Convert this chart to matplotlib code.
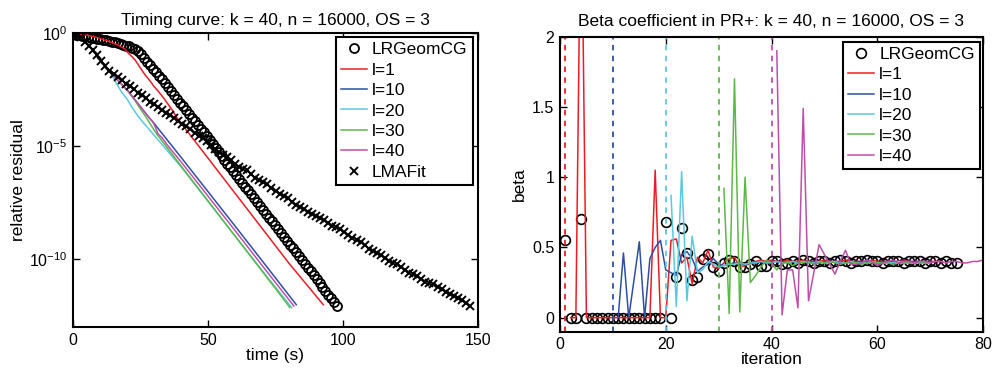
import numpy as np
import matplotlib
matplotlib.use("Agg")
import matplotlib.pyplot as plt

plt.rcParams['font.family'] = ['Liberation Sans', 'DejaVu Sans']
plt.rcParams['mathtext.fontset'] = 'custom'
plt.rcParams['mathtext.rm'] = 'Liberation Sans'
plt.rcParams['mathtext.it'] = 'Liberation Sans:italic'

# ---- left panel: relative residual vs time (log10 values) ----
lrg_t = [0.0, 1.1, 2.2, 3.3, 4.4, 5.5, 6.6, 7.7, 8.8, 9.9, 11.0, 12.1, 13.2, 14.3, 15.4,
         16.5, 17.6, 18.7, 19.8, 20.9, 22.0, 23.1, 24.2, 25.3, 26.4, 27.5, 28.6, 29.7,
         30.8, 31.9, 33.0, 34.1, 35.2, 36.3, 37.4, 38.5, 39.6, 40.7, 41.8, 42.9, 44.0,
         45.1, 46.2, 47.3, 48.4, 49.5, 50.6, 51.7, 52.8, 53.9, 55.0, 56.1, 57.2, 58.3,
         59.4, 60.5, 61.6, 62.7, 63.8, 64.9, 66.0, 67.1, 68.2, 69.3, 70.4, 71.5, 72.6,
         73.7, 74.8, 75.9, 77.0, 78.1, 79.2, 80.3, 81.4, 82.5, 83.6, 84.7, 85.8, 86.9,
         88.0, 89.1, 90.2, 91.3, 92.4, 93.5, 94.6, 95.7, 96.8, 97.9]
lrg_log = [-0.05, -0.07, -0.09, -0.12, -0.14, -0.17, -0.20, -0.22, -0.24, -0.26, -0.29,
           -0.31, -0.34, -0.37, -0.40, -0.43, -0.46, -0.50, -0.54, -0.58, -0.63, -0.70,
           -0.80, -0.93, -1.08, -1.25, -1.41, -1.57, -1.72, -1.88, -2.04, -2.21, -2.38,
           -2.55, -2.72, -2.89, -3.06, -3.22, -3.39, -3.56, -3.73, -3.90, -4.06, -4.22,
           -4.38, -4.54, -4.71, -4.88, -5.06, -5.24, -5.42, -5.59, -5.76, -5.93, -6.10,
           -6.27, -6.44, -6.61, -6.78, -6.95, -7.12, -7.30, -7.47, -7.64, -7.81, -7.98,
           -8.15, -8.32, -8.49, -8.66, -8.83, -9.00, -9.17, -9.34, -9.51, -9.68, -9.85,
           -10.02, -10.19, -10.36, -10.53, -10.70, -10.87, -11.04, -11.21, -11.38, -11.55,
           -11.72, -11.89, -12.06]

lma_t = [0, 1.5, 3, 4.5, 6, 7.5, 9, 10.5, 12, 13.5, 15, 16.5, 18, 19.5, 21, 22.5, 24,
         25.5, 27, 28.5, 30, 31.5, 33, 34.5, 36, 37.5, 39, 40.5, 42, 43.5, 45, 46.5, 48,
         49.5, 51, 52.5, 54, 55.5, 57, 58.5, 60, 61.5, 63, 64.5, 66, 67.5, 69, 70.5, 72,
         73.5, 75, 76.5, 78, 79.5, 81, 82.5, 84, 85.5, 87, 88.5, 90, 91.5, 93, 94.5, 96,
         97.5, 99, 100.5, 102, 103.5, 105, 106.5, 108, 109.5, 111, 112.5, 114, 115.5, 117,
         118.5, 120, 121.5, 123, 124.5, 126, 127.5, 129, 130.5, 132, 133.5, 135, 136.5,
         138, 139.5, 141, 142.5, 144, 145.5, 147]
lma_log = [0.0, -0.05, -0.18, -0.38, -0.58, -0.76, -0.98, -1.22, -1.45, -1.65, -1.80,
           -1.92, -2.07, -2.22, -2.34, -2.47, -2.62, -2.74, -2.86, -3.02, -3.14, -3.25,
           -3.38, -3.53, -3.63, -3.74, -3.90, -4.03, -4.12, -4.25, -4.40, -4.52, -4.62,
           -4.78, -4.95, -5.12, -5.25, -5.38, -5.48, -5.60, -5.78, -5.92, -5.98, -6.05,
           -6.20, -6.38, -6.50, -6.58, -6.68, -6.82, -6.98, -7.10, -7.18, -7.30, -7.46,
           -7.58, -7.68, -7.76, -7.88, -8.00, -8.08, -8.16, -8.26, -8.38, -8.50, -8.58,
           -8.66, -8.78, -8.92, -9.04, -9.12, -9.22, -9.36, -9.52, -9.62, -9.70, -9.80,
           -9.94, -10.06, -10.14, -10.22, -10.32, -10.46, -10.58, -10.66, -10.74, -10.86,
           -10.98, -11.06, -11.10, -11.20, -11.32, -11.44, -11.52, -11.60, -11.70, -11.80,
           -11.92, -12.05]

l1_t = [0, 3, 6, 9, 11, 14, 17, 19, 20.5, 22, 23, 24.5, 26, 27, 28.5, 30, 31.5, 33.5, 35,
        36.5, 38.4, 40, 50, 60, 70, 80, 92.7]
l1_log = [0, -0.04, -0.10, -0.19, -0.27, -0.38, -0.54, -0.68, -0.88, -1.05, -1.18, -1.45,
          -1.72, -1.88, -2.10, -2.35, -2.55, -2.85, -3.10, -3.35, -3.72, -3.97, -5.52,
          -7.07, -8.62, -10.17, -12.0]
l10_t = [0, 2, 4, 6, 8, 10, 12, 14, 16, 18, 20, 22, 24, 26, 28, 30, 32, 40, 50, 60, 70, 82.7]
l10_log = [0, -0.08, -0.28, -0.55, -0.85, -1.15, -1.45, -1.75, -2.0, -2.25, -2.5, -2.8,
           -3.1, -3.4, -3.7, -3.98, -4.28, -5.48, -7.0, -8.52, -10.05, -12.0]
l20_t = [0, 2, 4, 6, 8, 10, 12, 14, 16, 18, 20, 22, 24, 26, 28, 30, 40, 50, 60, 70, 81]
l20_log = [0, -0.08, -0.28, -0.55, -0.85, -1.15, -1.45, -1.75, -2.2, -2.6, -2.9, -3.3,
           -3.65, -3.95, -4.22, -4.5, -5.9, -7.43, -8.96, -10.48, -12.13]
l30_t = [0, 2, 4, 6, 8, 10, 12, 14, 16, 18, 20, 21, 23, 25, 27, 29, 31, 40, 50, 60, 70, 80.3]
l30_log = [0, -0.08, -0.28, -0.55, -0.85, -1.15, -1.45, -1.75, -2.0, -2.25, -2.5, -2.65,
           -2.98, -3.35, -3.7, -4.08, -4.45, -5.86, -7.41, -8.96, -10.51, -12.12]
l40_t = [0, 2, 4, 6, 8, 10, 12, 14, 16, 18, 20, 22, 24, 26, 28, 29.6, 30.5, 31.5, 33, 35,
         40, 50, 60, 70, 81.8]
l40_log = [0, -0.08, -0.28, -0.55, -0.85, -1.15, -1.45, -1.75, -2.0, -2.25, -2.5, -2.8,
           -3.1, -3.4, -3.7, -3.92, -4.15, -4.45, -4.62, -4.95, -5.68, -7.2, -8.72, -10.26,
           -12.06]

# ---- right panel: beta per iteration ----
beta_lrg = [0.55, 0, 0, 0.70, 0, 0, 0, 0, 0, 0, 0, 0, 0, 0, 0, 0, 0, 0, 0,
            0.68, 0, 0.29, 0.64, 0.46, 0.27, 0.29, 0.42, 0.45, 0.36, 0.33, 0.39, 0.41,
            0.40, 0.36, 0.36, 0.38, 0.40, 0.37, 0.37, 0.40,
            0.40, 0.38, 0.39, 0.40, 0.39, 0.41, 0.40, 0.39, 0.40, 0.40, 0.39, 0.40, 0.41,
            0.40, 0.39, 0.40, 0.40, 0.41, 0.40, 0.40, 0.39, 0.40, 0.40, 0.40, 0.39, 0.40,
            0.40, 0.40, 0.39, 0.40, 0.40, 0.39, 0.40, 0.39, 0.39]
beta_l1 = [0, 0, 3.2, 0, 0, 0, 0, 0, 0, 0, 0, 0, 0, 0, 0, 0, 1.05, 0, 0, 0.55, 0.56, 0.39,
           0.43, 0.24, 0.43, 0.39, 0.48, 0.36, 0.35, 0.39, 0.42, 0.43, 0.36, 0.37, 0.39,
           0.40, 0.41, 0.40, 0.41, 0.40, 0.40, 0.41, 0.40, 0.40, 0.41, 0.40, 0.40, 0.40,
           0.41, 0.40, 0.40, 0.40, 0.41, 0.40, 0.40, 0.40, 0.40, 0.41, 0.40, 0.40, 0.40,
           0.40, 0.40, 0.41, 0.40, 0.40, 0.40, 0.40, 0.40, 0.40, 0.40]
beta_l10 = [0, 0.46, 0, 0.27, 0.54, 0, 0.42, 0.50, 0.55, 0.34, 0.32, 0.30, 0.45, 0.47,
            0.42, 0.33, 0.36, 0.38, 0.42, 0.38, 0.37, 0.38, 0.39, 0.38, 0.38, 0.39, 0.39,
            0.40, 0.39, 0.40, 0.40, 0.39, 0.40, 0.40, 0.39, 0.40, 0.40, 0.40, 0.39, 0.40,
            0.40, 0.40, 0.40, 0.39, 0.40, 0.40, 0.40, 0.40, 0.40, 0.39, 0.40, 0.40, 0.40,
            0.40, 0.40, 0.40, 0.40, 0.40, 0.40, 0.40]
beta_l20 = [0.87, 0.08, 1.04, 0.12, 0.58, 0.32, 0.34, 0.40, 0.38, 0.36, 0.37, 0.38, 0.38,
            0.39, 0.38, 0.39, 0.39, 0.40, 0.39, 0.39, 0.40, 0.39, 0.39, 0.40, 0.39, 0.40,
            0.39, 0.39, 0.40, 0.39, 0.39, 0.40, 0.39, 0.39, 0.40, 0.39, 0.39, 0.39, 0.40,
            0.39, 0.39, 0.39, 0.39, 0.40, 0.39, 0.39, 0.39, 0.39, 0.39, 0.39]
beta_l30 = [0.92, 0.03, 1.70, 0.04, 1.00, 0.25, 0.30, 0.36, 0.41, 0.39, 0.34, 0.38, 0.40,
            0.37, 0.39, 0.39, 0.40, 0.38, 0.39, 0.39, 0.40, 0.39, 0.38, 0.39, 0.39, 0.39,
            0.38, 0.39, 0.39, 0.39, 0.39, 0.39, 0.38, 0.39, 0.39, 0.39, 0.39, 0.39, 0.39,
            0.39]
beta_l40 = [1.90, 0.02, 0.34, 0.34, 0.07, 1.49, 0.12, 0.32, 0.52, 0.45, 0.38, 0.31, 0.40,
            0.48, 0.38, 0.38, 0.39, 0.41, 0.40, 0.37, 0.39, 0.40, 0.41, 0.39, 0.40, 0.40,
            0.39, 0.40, 0.40, 0.39, 0.40, 0.40, 0.39, 0.40, 0.40, 0.39, 0.39, 0.40, 0.40,
            0.41]
restart_l = [1, 10, 20, 30, 40]

labels = ['l=1', 'l=10', 'l=20', 'l=30', 'l=40']
colors = ['#ed1c24', '#2e4fa3', '#5ac8de', '#5cb847', '#bd4fab']

fig = plt.figure(figsize=(9.92, 3.71), dpi=100)
ax1 = fig.add_axes([73 / 992, 1 - 327.3 / 371, 405 / 992, 294 / 371])
ax2 = fig.add_axes([560 / 992, 1 - 331.7 / 371, 423 / 992, 295 / 371])

leg_kw = dict(loc='upper right', borderaxespad=0, fontsize=12.5, numpoints=1,
              handlelength=1.5, handletextpad=0.3, labelspacing=0.3, borderpad=0.3,
              fancybox=False, framealpha=1, edgecolor='k')

# left
ax1.semilogy(lrg_t, 10.0 ** np.array(lrg_log), 'o', mfc='none', mec='k', ms=6.5, mew=1.3,
             label='LRGeomCG')
left_lines = [(l1_t, l1_log), (l10_t, l10_log), (l20_t, l20_log), (l30_t, l30_log), (l40_t, l40_log)]
for (tt, vv), lab, c in zip(left_lines, labels, colors):
    ax1.semilogy(tt, 10.0 ** np.array(vv), '-', color=c, lw=1.1, label=lab)
ax1.semilogy(lma_t, 10.0 ** np.array(lma_log), 'x', color='k', ms=6, mew=1.4, label='LMAFit')
ax1.set_xlim(0, 150)
ax1.set_ylim(1e-13, 1)
ax1.set_xticks([0, 50, 100, 150])
ax1.set_yticks([1e-10, 1e-5, 1])
ax1.minorticks_off()
ax1.set_xlabel('time (s)', fontsize=12.5, labelpad=0)
ax1.set_ylabel('relative residual', fontsize=12.5, labelpad=2)
ax1.set_title('Timing curve: k = 40, n = 16000, OS = 3', fontsize=12.5, pad=6)
leg1 = ax1.legend(bbox_to_anchor=(0.987, 0.987), **leg_kw)
leg1.get_frame().set_linewidth(1.5)

# right
ax2.plot(np.arange(1, len(beta_lrg) + 1), beta_lrg, 'o', mfc='none', mec='k', ms=7, mew=1.2,
         label='LRGeomCG')
right_lines = [beta_l1, beta_l10, beta_l20, beta_l30, beta_l40]
for vals, l, lab, c in zip(right_lines, restart_l, labels, colors):
    it = np.arange(l + 1, l + 1 + len(vals))
    ax2.plot(it, vals, '-', color=c, lw=1.1, label=lab)
    ax2.axvline(l, color=c, ls=(0, (3, 3)), lw=1.3)
ax2.set_xlim(0, 80)
ax2.set_ylim(-0.1, 2)
ax2.set_xticks([0, 20, 40, 60, 80])
ax2.set_yticks([0, 0.5, 1, 1.5, 2])
ax2.set_yticklabels(['0', '0.5', '1', '1.5', '2'])
ax2.set_xlabel('iteration', fontsize=12.5, labelpad=0)
ax2.set_ylabel('beta', fontsize=12.5, labelpad=4)
ax2.set_title('Beta coefficient in PR+: k = 40, n = 16000, OS = 3', fontsize=12.5, pad=8)
leg2 = ax2.legend(bbox_to_anchor=(0.993, 0.983), **leg_kw)
leg2.get_frame().set_linewidth(1.5)

for ax in (ax1, ax2):
    ax.tick_params(direction='in', top=True, right=True, length=5, width=1,
                   labelsize=11.5, pad=4)
    for s in ax.spines.values():
        s.set_linewidth(1.5)

fig.savefig('out.png', dpi=100)
